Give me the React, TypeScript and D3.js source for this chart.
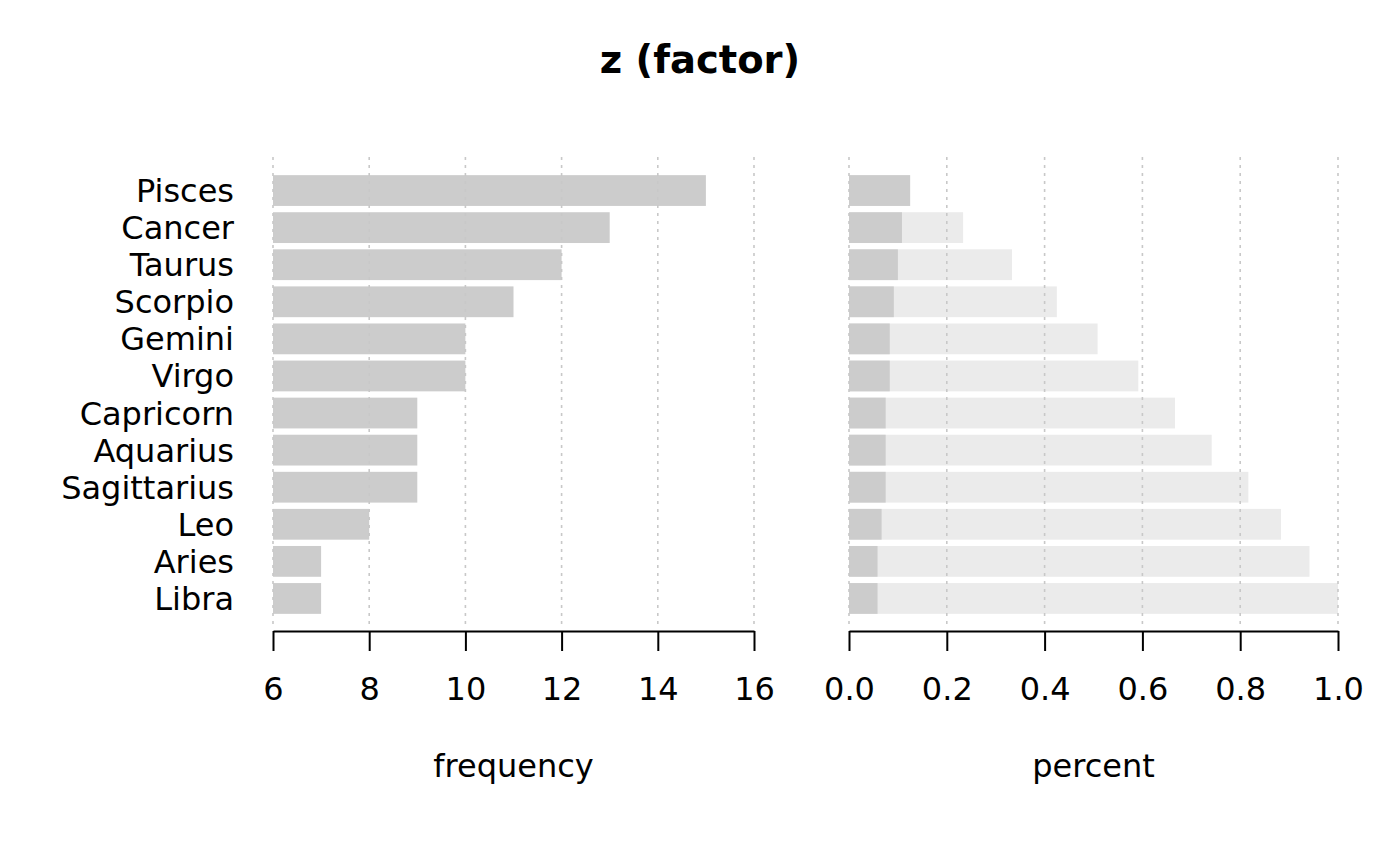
import type { FC } from "react";
import { useEffect, useRef } from "react";
import * as d3 from "d3";

// signs sorted by frequency, top to bottom
const signs = [
  "Pisces",
  "Cancer",
  "Taurus",
  "Scorpio",
  "Gemini",
  "Virgo",
  "Capricorn",
  "Aquarius",
  "Sagittarius",
  "Leo",
  "Aries",
  "Libra",
];
const counts = [15, 13, 12, 11, 10, 10, 9, 9, 9, 8, 7, 7];
const freqTicks = [6, 8, 10, 12, 14, 16];
const pctTicks = [0, 0.2, 0.4, 0.6, 0.8, 1.0];

const App: FC = () => {
  const ref = useRef<SVGSVGElement | null>(null);

  useEffect(() => {
    if (!ref.current) return;
    d3.select(ref.current).selectAll("*").remove();

    const width = 1400;
    const height = 866;
    const font = "'DejaVu Sans', sans-serif";
    const total = d3.sum(counts);
    const data = signs.map((s, i) => ({
      sign: s,
      count: counts[i],
      pct: counts[i] / total,
      cum: d3.sum(counts.slice(0, i + 1)) / total,
    }));

    const svg = d3
      .select(ref.current)
      .attr("width", width)
      .attr("height", height)
      .attr("viewBox", `0 0 ${width} ${height}`);

    svg.append("rect").attr("width", width).attr("height", height).attr("fill", "#fff");

    // title
    svg
      .append("text")
      .attr("x", 700)
      .attr("y", 73)
      .attr("text-anchor", "middle")
      .style("font-family", font)
      .style("font-weight", "bold")
      .style("font-size", "38.5px")
      .text("z (factor)");

    const y = d3
      .scaleBand<string>()
      .domain(signs)
      .range([172, 617])
      .paddingInner(0.17)
      .paddingOuter(0.085);

    const gridTop = 157;
    const gridBottom = 626;
    const axisY = 631;

    const xFreq = d3.scaleLinear().domain([6, 16]).range([273, 754]);
    const xPct = d3.scaleLinear().domain([0, 1]).range([849, 1338]);

    // left panel bars
    const left = svg.append("g");
    left
      .selectAll("rect")
      .data(data)
      .join("rect")
      .attr("x", xFreq(6))
      .attr("y", (d) => y(d.sign)!)
      .attr("width", (d) => xFreq(d.count) - xFreq(6))
      .attr("height", y.bandwidth())
      .attr("fill", "#cccccc");

    // right panel: cumulative behind, percent in front
    const right = svg.append("g");
    right
      .selectAll("rect.cum")
      .data(data)
      .join("rect")
      .attr("class", "cum")
      .attr("x", xPct(0))
      .attr("y", (d) => y(d.sign)!)
      .attr("width", (d) => xPct(d.cum) - xPct(0))
      .attr("height", y.bandwidth())
      .attr("fill", "#ebebeb");
    right
      .selectAll("rect.pct")
      .data(data)
      .join("rect")
      .attr("class", "pct")
      .attr("x", xPct(0))
      .attr("y", (d) => y(d.sign)!)
      .attr("width", (d) => xPct(d.pct) - xPct(0))
      .attr("height", y.bandwidth())
      .attr("fill", "#cccccc");

    // dotted grid drawn over the bars
    const grid = (g: d3.Selection<SVGGElement, unknown, null, undefined>, x: d3.ScaleLinear<number, number>, ticks: number[]) =>
      g
        .selectAll("line")
        .data(ticks)
        .join("line")
        .attr("x1", (d) => x(d))
        .attr("x2", (d) => x(d))
        .attr("y1", gridTop)
        .attr("y2", gridBottom)
        .attr("stroke", "#c8c8c8")
        .attr("stroke-width", 1.6)
        .attr("stroke-dasharray", "3,5");
    grid(svg.append("g"), xFreq, freqTicks);
    grid(svg.append("g"), xPct, pctTicks);

    // category labels
    svg
      .append("g")
      .selectAll("text")
      .data(data)
      .join("text")
      .attr("x", 234)
      .attr("y", (d) => y(d.sign)! + y.bandwidth() / 2)
      .attr("dy", "0.36em")
      .attr("text-anchor", "end")
      .style("font-family", font)
      .style("font-size", "32px")
      .text((d) => d.sign);

    // axes
    const drawAxis = (x: d3.ScaleLinear<number, number>, ticks: number[], fmt: (d: number) => string) => {
      const g = svg
        .append("g")
        .attr("transform", `translate(0,${axisY})`)
        .call(d3.axisBottom(x).tickValues(ticks).tickSize(20).tickSizeOuter(0).tickPadding(26).tickFormat((d) => fmt(+d)));
      g.select(".domain").attr("stroke", "#000").attr("stroke-width", 2);
      g.selectAll(".tick line").attr("stroke", "#000").attr("stroke-width", 2);
      g.selectAll("text")
        .attr("fill", "#000")
        .style("font-family", font)
        .style("font-size", "32px");
    };
    drawAxis(xFreq, freqTicks, (d) => String(d));
    drawAxis(xPct, pctTicks, (d) => d.toFixed(1));

    // axis titles
    const titles = [
      { label: "frequency", x: (xFreq(6) + xFreq(16)) / 2 },
      { label: "percent", x: (xPct(0) + xPct(1)) / 2 },
    ];
    svg
      .append("g")
      .selectAll("text")
      .data(titles)
      .join("text")
      .attr("x", (d) => d.x)
      .attr("y", 777)
      .attr("text-anchor", "middle")
      .style("font-family", font)
      .style("font-size", "32px")
      .text((d) => d.label);
  }, []);

  return <svg ref={ref} style={{ position: "absolute", left: 0, top: 0, display: "block" }}></svg>;
};

export default App;
